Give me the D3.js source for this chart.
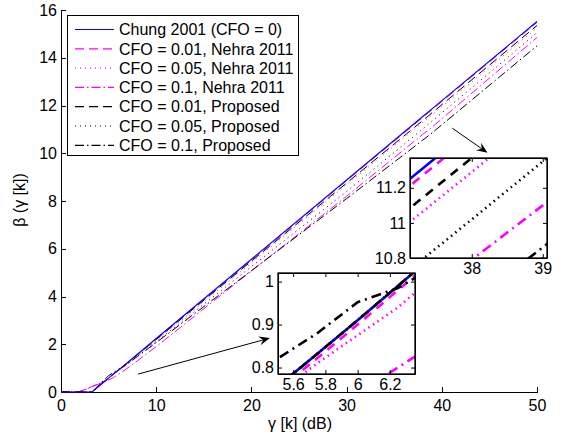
<!DOCTYPE html>
<html><head><meta charset="utf-8">
<script src="https://cdn.jsdelivr.net/npm/d3@7"></script>
<style>
body{margin:0;background:#fff}
svg{display:block}
text{font-family:"Liberation Sans",Arial,Helvetica,sans-serif;fill:#000}
</style>
</head><body>
<svg id="c" width="574" height="439"></svg>
<script>
// ---- data ----
const gamma     = [0, 1, 1.8, 2.5, 3, 3.25, 4, 5, 5.5, 5.75, 6, 6.25, 6.5, 8, 10, 20, 30, 38, 39, 50];
const chung     = [0,0,0,0,0,0,0.25,0.58,0.755,0.832,0.91,0.99,1.07,1.57,2.24,5.56,8.88,11.54,11.87,15.52];
const nehra001  = [0,0,0,0.1,0.18,0.22,0.34,0.55,0.745,0.822,0.9,0.98,1.06,1.56,2.21,5.52,8.85,11.50,11.83,15.48];
const nehra005  = [0,0,0,0.1,0.18,0.22,0.35,0.57,0.74,0.81,0.875,0.94,1.02,1.5,2.15,5.41,8.68,11.29,11.62,15.25];
const nehra01   = [0,0,0,0.1,0.18,0.22,0.34,0.5,0.6,0.67,0.74,0.8,0.86,1.3,1.9,5.07,8.2,10.79,11.1,14.85];
const prop001   = [0,0,0,0,0,0,0.25,0.58,0.755,0.832,0.91,0.99,1.07,1.56,2.2,5.48,8.75,11.37,11.7,15.35];
const prop005   = [0,0,0,0,0,0,0.25,0.58,0.755,0.832,0.91,0.99,1.07,1.5,2.1,5.25,8.4,11.02,11.35,15.05];
const prop01    = [0,0,0,0,0,0,0.3,0.68,0.82,0.88,0.952,0.985,1.04,1.48,2.07,5.08,8.1,10.55,10.86,14.5];
const seriesNames = ["Chung 2001 (CFO = 0)","CFO = 0.01, Nehra 2011","CFO = 0.05, Nehra 2011","CFO = 0.1, Nehra 2011",
                     "CFO = 0.01, Proposed","CFO = 0.05, Proposed","CFO = 0.1, Proposed"];
const seriesValues = [chung, nehra001, nehra005, nehra01, prop001, prop005, prop01];
const xTicks = [0,10,20,30,40,50];
const yTicks = [0,2,4,6,8,10,12,14,16];
const inset1XTicks = [38,39], inset1YTicks = [10.8,11,11.2];
const inset2XTicks = [5.6,5.8,6,6.2], inset2YTicks = [0.8,0.9,1];

// ---- styles ----
const colors = ["#0000ff","#ff00ff","#ff00ff","#ff00ff","#000","#000","#000"];
const kinds  = ["solid","dash","dot","dashdot","dash","dot","dashdot"];
const dashThin  = {solid:null, dash:"9,5", dot:"1,4", dashdot:"9,3,1.5,3"};
const dashThick = {solid:null, dash:"9,7", dot:"1.5,4", dashdot:"10,5,2,5"};

const svg = d3.select("#c");
const FS = 16;
const x = d3.scaleLinear([0,50],[61,537]);
const y = d3.scaleLinear([0,16],[392,10]);
const series = seriesValues.map((vals,i)=>({name:seriesNames[i], pts: gamma.map((g,j)=>[g, vals[j]]), color:colors[i], kind:kinds[i]}));

const fmt = d => String(+(+d).toFixed(2));

// main axes
const gx = svg.append("g").attr("transform",`translate(0,${y(0)})`)
  .call(d3.axisBottom(x).tickValues(xTicks).tickSizeInner(-5).tickSizeOuter(0).tickPadding(8).tickFormat(fmt));
const gy = svg.append("g").attr("transform",`translate(${x(0)},0)`)
  .call(d3.axisLeft(y).tickValues(yTicks).tickSizeInner(-5).tickSizeOuter(0).tickPadding(4).tickFormat(fmt));
[gx,gy].forEach(g=>{
  g.selectAll("text").attr("font-size",FS).attr("font-family",null);
  g.selectAll("path,line").attr("stroke","#000").attr("stroke-width",1).attr("shape-rendering","crispEdges");
});

// main lines (reference line drawn last so it stays visible on top)
const mainLine = d3.line().x(d=>x(d[0])).y(d=>y(d[1]));
const mainOrder = series.slice(1).concat([series[0]]);
svg.append("g").selectAll("path").data(mainOrder).join("path")
  .attr("d",d=>mainLine(d.pts)).attr("fill","none")
  .attr("stroke",d=>d.color).attr("stroke-width",d=>d.kind==="solid"?1.1:1)
  .attr("stroke-dasharray",d=>dashThin[d.kind]);

// axis titles
svg.append("text").attr("x",300).attr("y",429).attr("text-anchor","middle").attr("font-size",FS).text("γ [k] (dB)");
svg.append("text").attr("transform","translate(25,200) rotate(-90)").attr("text-anchor","middle").attr("font-size",FS).text("β (γ [k])");

// legend
const lg = svg.append("g");
lg.append("rect").attr("x",67.5).attr("y",15.5).attr("width",231).attr("height",140)
  .attr("fill","#fff").attr("stroke","#000").attr("stroke-width",1);
series.forEach((s,i)=>{
  const cy = 29.5 + i*19.3;
  lg.append("line").attr("x1",75).attr("x2",114).attr("y1",cy).attr("y2",cy)
    .attr("stroke",s.color).attr("stroke-width",1.2).attr("stroke-dasharray",dashThin[s.kind]);
  lg.append("text").attr("x",119).attr("y",cy).attr("dy","0.36em").attr("font-size",FS).text(s.name);
});

// arrows (annotation in data coordinates)
function arrow(x0,y0,x1,y1){
  const p0=[x(x0),y(y0)], p1=[x(x1),y(y1)];
  const ang=Math.atan2(p1[1]-p0[1],p1[0]-p0[0]);
  const L=11, Wd=4.5, back=7;
  const ux=Math.cos(ang), uy=Math.sin(ang), nx=-uy, ny=ux;
  const b=[p1[0]-ux*L, p1[1]-uy*L], n=[p1[0]-ux*back, p1[1]-uy*back];
  svg.append("line").attr("x1",p0[0]).attr("y1",p0[1]).attr("x2",n[0]).attr("y2",n[1]).attr("stroke","#000").attr("stroke-width",1);
  svg.append("path").attr("d",`M${p1[0]},${p1[1]}L${b[0]+nx*Wd},${b[1]+ny*Wd}L${n[0]},${n[1]}L${b[0]-nx*Wd},${b[1]-ny*Wd}Z`).attr("fill","#000");
}
arrow(41.1,11.05,44.8,10.02);
arrow(8.1,0.75,21.95,2.26);

// insets
let clipId=0;
function inset(box, xd, yd, xt, yt){
  const g = svg.append("g");
  const xs = d3.scaleLinear(xd,[box.x, box.x+box.w]);
  const ys = d3.scaleLinear(yd,[box.y+box.h, box.y]);
  g.append("rect").attr("x",box.x).attr("y",box.y).attr("width",box.w).attr("height",box.h).attr("fill","#fff");
  const id="clip"+(clipId++);
  g.append("clipPath").attr("id",id).append("rect").attr("x",box.x).attr("y",box.y).attr("width",box.w).attr("height",box.h);
  const ln = d3.line().x(d=>xs(d[0])).y(d=>ys(d[1]));
  g.append("g").attr("clip-path",`url(#${id})`).selectAll("path").data(series).join("path")
    .attr("d",d=>ln(d.pts)).attr("fill","none").attr("stroke",d=>d.color).attr("stroke-width",2.6)
    .attr("stroke-dasharray",d=>dashThick[d.kind]);
  const ax = [
    d3.axisBottom(xs).tickValues(xt).tickSizeInner(-4).tickSizeOuter(0).tickPadding(5).tickFormat(fmt),
    d3.axisTop(xs).tickValues(xt).tickSizeInner(-4).tickSizeOuter(0).tickFormat(""),
    d3.axisLeft(ys).tickValues(yt).tickSizeInner(-4).tickSizeOuter(0).tickPadding(4).tickFormat(fmt),
    d3.axisRight(ys).tickValues(yt).tickSizeInner(-4).tickSizeOuter(0).tickFormat("")
  ];
  const tr = [`translate(0,${box.y+box.h})`,`translate(0,${box.y})`,`translate(${box.x},0)`,`translate(${box.x+box.w},0)`];
  ax.forEach((a,i)=>{
    const ag = g.append("g").attr("transform",tr[i]).call(a);
    ag.selectAll("text").attr("font-size",FS).attr("font-family",null);
    ag.selectAll("path,line").attr("stroke","#000").attr("stroke-width",1);
  });
  g.append("rect").attr("x",box.x).attr("y",box.y).attr("width",box.w).attr("height",box.h)
    .attr("fill","none").attr("stroke","#000").attr("stroke-width",1.3);
}
inset({x:410,y:158,w:137,h:100},[37.13,39.06],[10.8,11.37],inset1XTicks,inset1YTicks);
inset({x:278,y:273,w:137,h:101},[5.506,6.356],[0.785,1.02],inset2XTicks,inset2YTicks);
</script>
</body></html>
